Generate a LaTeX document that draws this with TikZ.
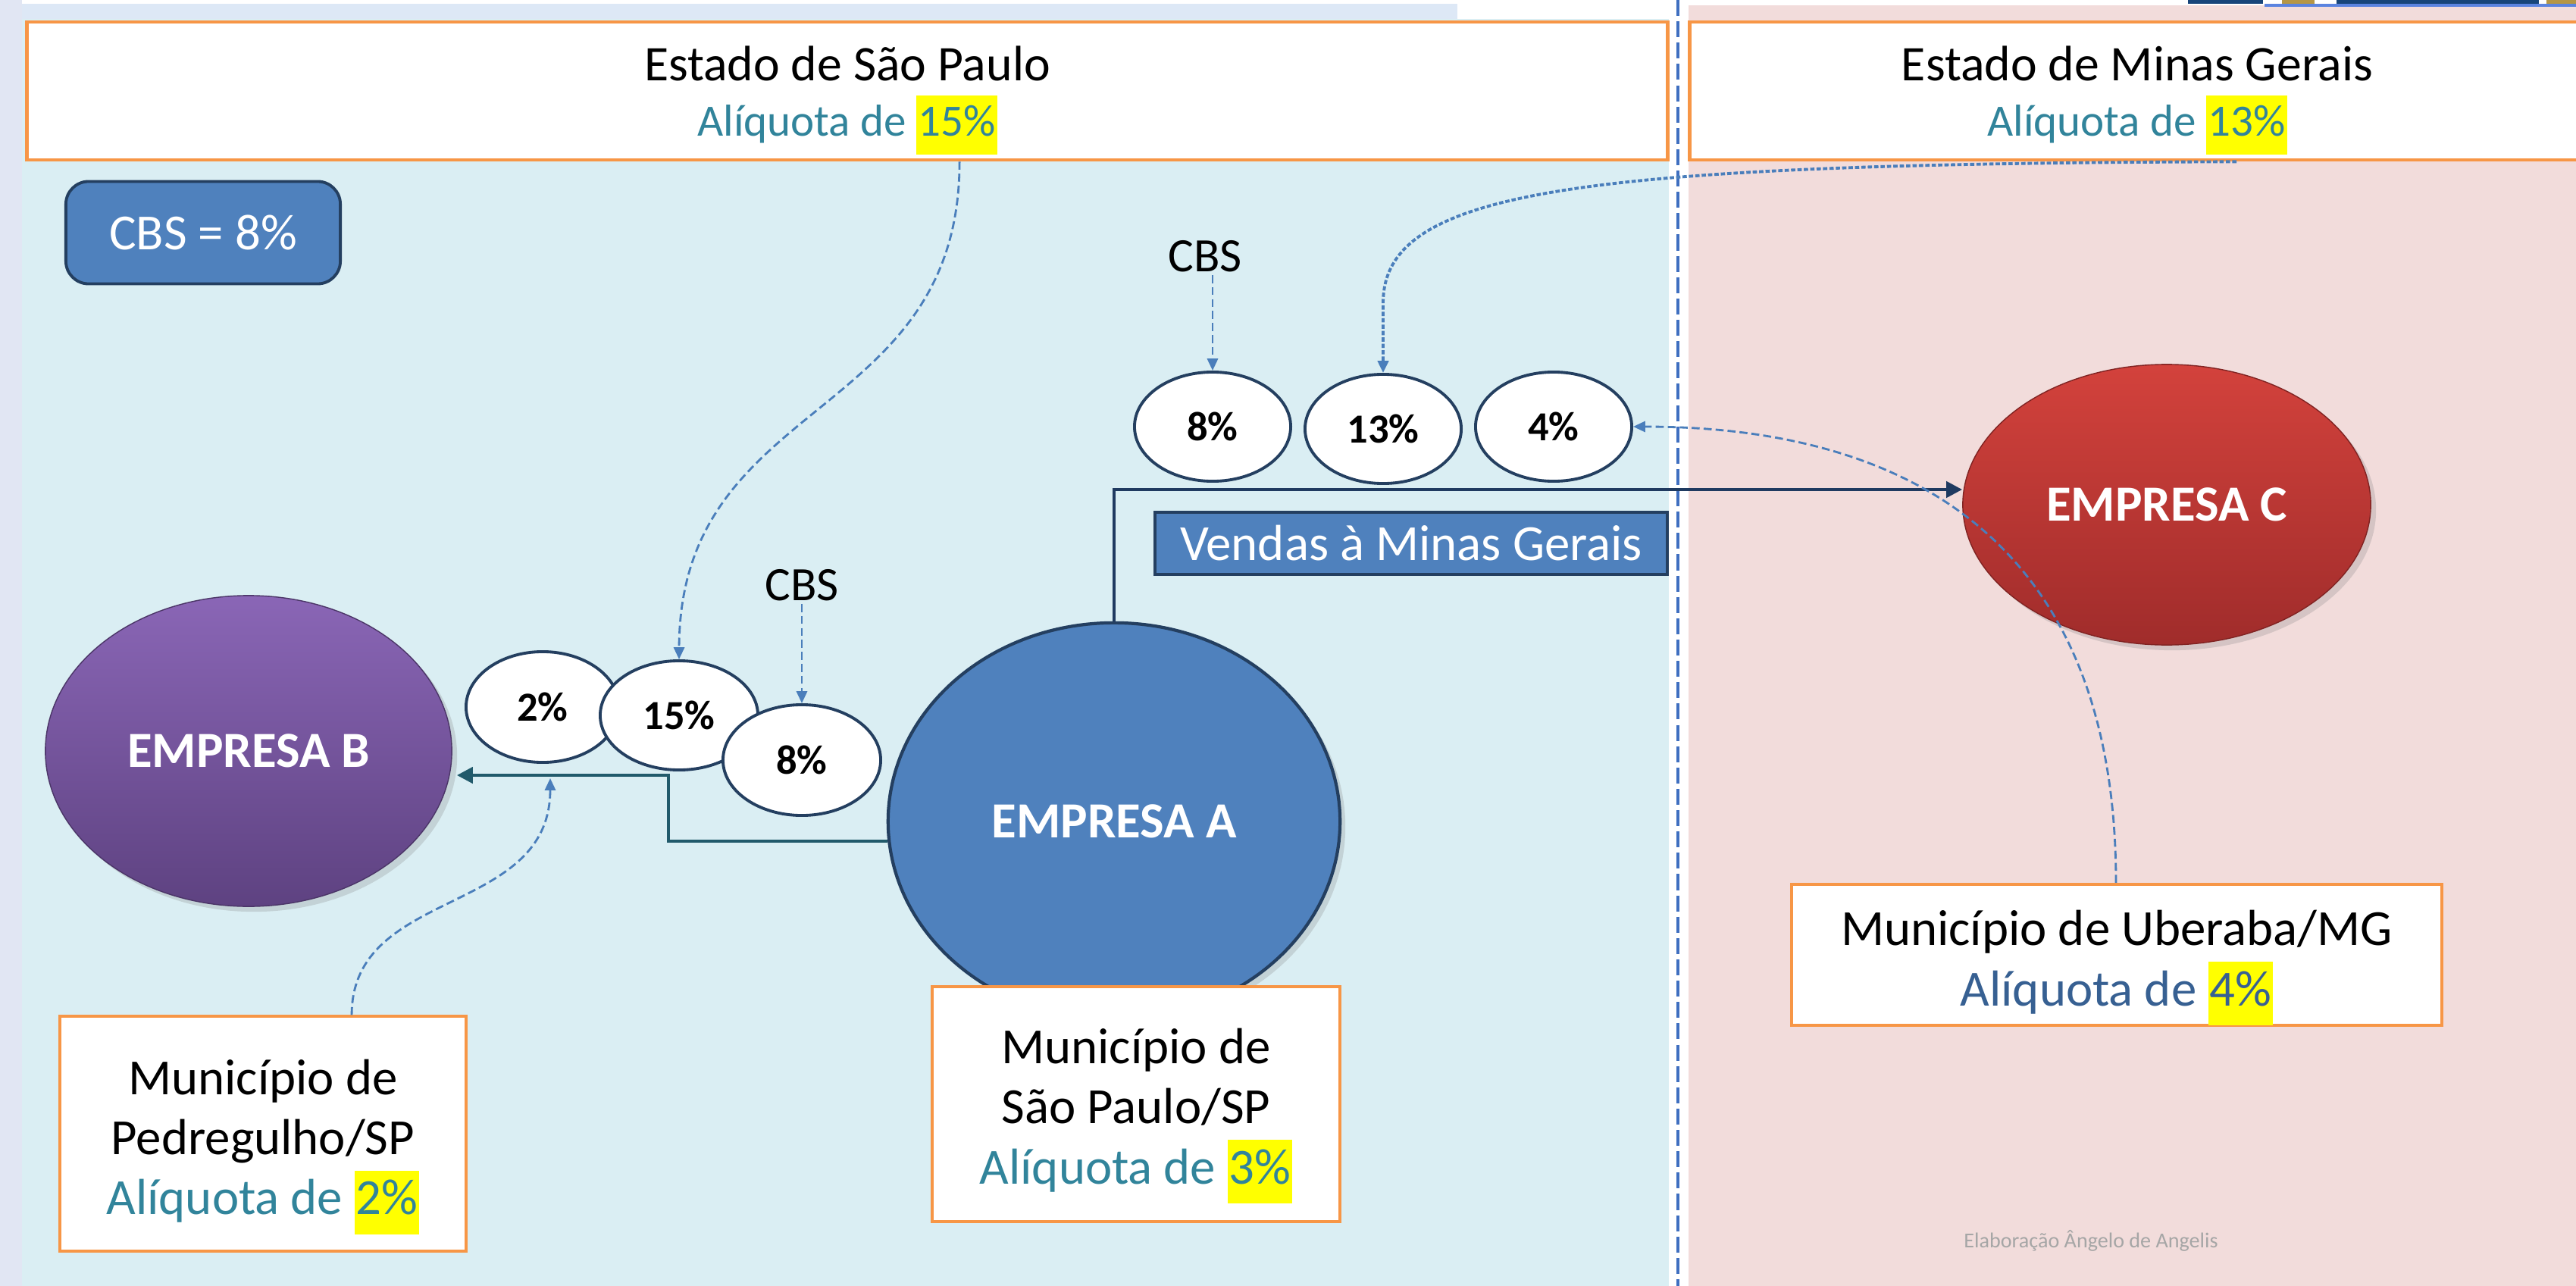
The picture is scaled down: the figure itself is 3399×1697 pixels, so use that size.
\documentclass[tikz,border=0pt]{standalone}
\usepackage{fontspec}
\setmainfont{Carlito}
\usetikzlibrary{shapes.geometric,arrows.meta,shadows}
\definecolor{panelblue}{HTML}{DAEEF3}
\definecolor{panelpink}{HTML}{F2DCDB}
\definecolor{topstrip}{HTML}{DDE8F6}
\definecolor{leftstrip}{HTML}{E1E6F3}
\definecolor{boxorange}{HTML}{F79646}
\definecolor{aqteal}{HTML}{31849B}
\definecolor{aqblue}{HTML}{376092}
\definecolor{hlyellow}{HTML}{FFFF00}
\definecolor{accblue}{HTML}{4F81BD}
\definecolor{accdark}{HTML}{243F60}
\definecolor{navyline}{HTML}{1F3A60}
\definecolor{tealline}{HTML}{215A6B}
\definecolor{dashblue}{HTML}{4A7EBB}
\definecolor{divblue}{HTML}{3F6FC0}
\definecolor{purpletop}{HTML}{8A66B6}
\definecolor{purplebot}{HTML}{5E4281}
\definecolor{redtop}{HTML}{D3423C}
\definecolor{redbot}{HTML}{A02C2B}
\definecolor{creditgrey}{HTML}{A6A6A6}
\definecolor{logoblue}{HTML}{17457A}
\definecolor{logogold}{HTML}{B59646}
\definecolor{logoline}{HTML}{5B84E0}
\newcommand{\hlbox}[1]{{\setlength{\fboxsep}{0.6pt}\colorbox{hlyellow}{\strut#1}}}
\newcommand{\titlesub}[1]{{\fontsize{16.8}{20.8}\selectfont\color{aqteal}#1}}
\tikzset{
  titlebox/.style={draw=boxorange, line width=1.3pt, fill=white, align=center, inner sep=0pt,
    font=\fontsize{18.7}{20.8}\selectfont},
  munibox/.style={draw=boxorange, line width=1.1pt, fill=white, align=center, inner sep=0pt,
    font=\fontsize{19}{22.6}\selectfont},
  pct/.style={ellipse, draw=accdark, line width=1.1pt, fill=white, inner sep=0pt,
    font=\fontsize{15.5}{18}\selectfont\bfseries, minimum width=2.06cm, minimum height=1.44cm},
  firm/.style={ellipse, inner sep=0pt, text=white, font=\fontsize{19}{23}\selectfont\bfseries,
    drop shadow={opacity=0.25, shadow xshift=2pt, shadow yshift=-2pt}},
  bluebox/.style={fill=accblue, draw=accdark, line width=1.1pt, text=white, inner sep=0pt,
    font=\fontsize{19}{23}\selectfont},
  cbslabel/.style={inner sep=1pt, font=\fontsize{18}{21}\selectfont},
  dasharrow/.style={draw=dashblue, line width=0.8pt, dash pattern=on 3pt off 1.5pt,
    -{Triangle[length=4.5pt,width=4pt]}},
  dotarrow/.style={draw=dashblue, line width=1.1pt, dash pattern=on 1.6pt off 0.8pt,
    -{Triangle[length=4.5pt,width=4pt]}},
  flowline/.style={line width=1.3pt, -{Triangle[length=6pt,width=6pt]}},
}
\begin{document}
\begin{tikzpicture}[x=0.01cm,y=-0.01cm]
\useasboundingbox (0,0) rectangle (3399,1697);
% backgrounds
\fill[white] (0,0) rectangle (3399,1697);
\fill[topstrip] (0,5) rectangle (1923,25);
\fill[leftstrip] (0,0) rectangle (29,1697);
\fill[panelblue] (29,25) rectangle (2202,1697);
\fill[panelpink] (2228,7) rectangle (3399,1697);
\draw[divblue, line width=1pt, dash pattern=on 6pt off 2pt] (2214,0) -- (2214,1697);
% cropped logo fragments at the top edge
\fill[logoblue] (2887,0) rectangle (2986,5);
\fill[logogold] (3011,0) rectangle (3054,5);
\fill[logoblue] (3083,0) rectangle (3350,5);
\fill[logogold] (3360,0) rectangle (3399,5);
\fill[logoline] (2988,5) rectangle (3399,9);

% state boxes
\node[titlebox, minimum width=21.64cm, minimum height=1.82cm] (sp) at (1118,120)
  {\rule{0pt}{20pt}Estado de São Paulo\\ \titlesub{Alíquota de \hlbox{15\%}}};
\node[titlebox, minimum width=11.8cm, minimum height=1.82cm] (mg) at (2820,120)
  {\rule{0pt}{20pt}Estado de Minas Gerais\\ \titlesub{Alíquota de \hlbox{13\%}}};

% CBS = 8%
\node[bluebox, rounded corners=0.3cm, minimum width=3.62cm, minimum height=1.35cm] (cbsbox) at (268,307) {CBS = 8\%};

% firms
\node[firm, top color=redtop, bottom color=redbot, draw=redbot!80!black, line width=0.4pt,
  minimum width=5.38cm, minimum height=3.7cm] (ec) at (2859,666) {EMPRESA C};
\node[firm, top color=purpletop, bottom color=purplebot, draw=purplebot!80!black, line width=0.4pt,
  minimum width=5.36cm, minimum height=4.1cm] (eb) at (328,991) {EMPRESA B};
\node[firm, fill=accblue, draw=accdark, line width=1.2pt,
  minimum width=5.96cm, minimum height=5.24cm] (ea) at (1470,1084) {EMPRESA A};

% Vendas box
\node[bluebox, minimum width=6.76cm, minimum height=0.82cm] (vendas) at (1862,717) {Vendas à Minas Gerais};

% top percentage ellipses
\node[pct] (e8a) at (1600,563) {8\%};
\node[pct] (e13) at (1825,566) {13\%};
\node[pct] (e4) at (2050,563) {4\%};

% lower percentage ellipses
\node[pct, minimum width=2.02cm, minimum height=1.46cm] (e2) at (716,933) {2\%};
\node[pct, minimum width=2.08cm] (e15) at (896,944) {15\%};
\node[pct, minimum width=2.08cm, minimum height=1.46cm] (e8b) at (1058,1003) {8\%};

% CBS labels
\node[cbslabel] (cbs1) at (1590,338) {CBS};
\node[cbslabel] (cbs2) at (1058,772) {CBS};

% municipal boxes
\node[munibox, minimum width=5.38cm, minimum height=3.09cm] (msp) at (1499,1457)
  {\rule{0pt}{22pt}Município de\\São Paulo/SP\\\textcolor{aqteal}{Alíquota de \hlbox{3\%}}};
\node[munibox, minimum width=5.36cm, minimum height=3.09cm] (ped) at (347,1496)
  {\rule{0pt}{23pt}Município de\\Pedregulho/SP\\\textcolor{aqteal}{Alíquota de \hlbox{2\%}}};
\node[munibox, minimum width=8.57cm, minimum height=1.80cm] (ub) at (2793,1260)
  {\rule{0pt}{23pt}Município de Uberaba/MG\\\textcolor{aqblue}{Alíquota de \hlbox{4\%}}};

% credit
\node[text=creditgrey, font=\fontsize{8}{10}\selectfont, inner sep=0pt] (credit) at (2759,1637) {Elaboração Ângelo de Angelis};

% flow connectors
\coordinate (vturn) at (1470,646);
\draw[flowline, navyline] (ea.north) -- (vturn) -- (vturn -| ec.west);
\coordinate (bturn) at (882,1023);
\draw[flowline, tealline] (ea.185) -| (bturn) -- ([xshift=0.06cm]bturn -| eb.east);

% dashed connectors
\draw[dasharrow] (cbs1.south -| e8a.north) -- (e8a.north);
\draw[dasharrow] (cbs2.south) -- (e8b.north);
\draw[dasharrow] ([xshift=1.48cm]sp.south) .. controls (1266,560) and (897,520) .. (e15.north);
\coordinate (pedtip) at (726,1027);
\draw[dasharrow] ([xshift=1.17cm]ped.north) .. controls (464,1170) and (726,1210) .. (pedtip);
\draw[dasharrow] ([xshift=-0.01cm]ub.north) .. controls (2792,700) and (2500,563) .. (e4.east);
\draw[dotarrow] ([xshift=1.31cm]mg.south) .. controls (2080,216) and (1825,250) .. (1825,400) -- (e13.north);
\end{tikzpicture}
\end{document}
